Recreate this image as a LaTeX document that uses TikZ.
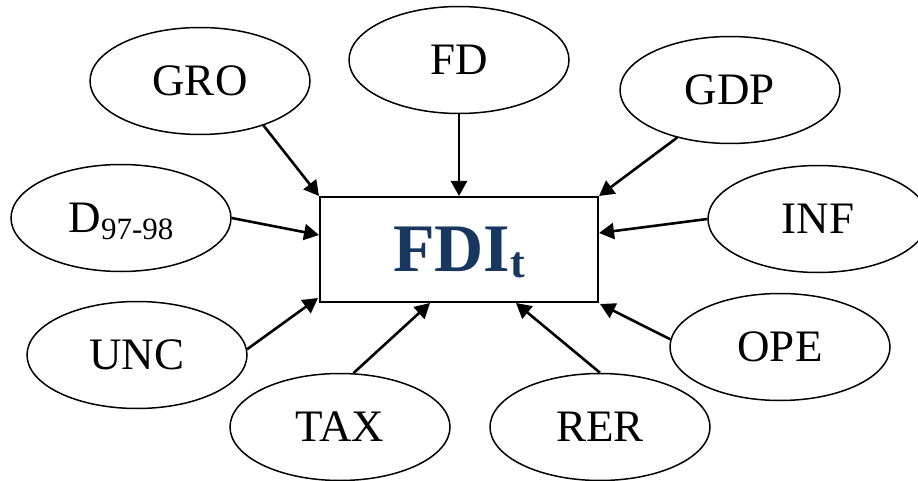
\documentclass[tikz,border=0pt]{standalone}
\usepackage{fontspec}
\setmainfont{Liberation Serif}
\usetikzlibrary{shapes.geometric,arrows.meta}
\definecolor{fdiblue}{RGB}{23,55,94}
\tikzset{
  factor/.style={ellipse, draw, line width=1.5pt, inner sep=0pt,
    minimum width=220pt, minimum height=107pt,
    font=\fontsize{45}{45}\selectfont},
  target/.style={rectangle, draw, line width=2pt, inner sep=0pt,
    minimum width=278pt, minimum height=105pt},
  link/.style={line width=2.6pt, -{Triangle[length=15pt,width=16pt]}}
}
\begin{document}
\begin{tikzpicture}[x=1pt,y=-1pt]
\useasboundingbox (0,0) rectangle (918,481);
% central variable
\node[target] (fdi) at (459,249.5)
  {\fontsize{68}{68}\selectfont\bfseries\color{fdiblue}FDI\raisebox{-6pt}[0pt][0pt]{\fontsize{44}{44}\selectfont t}};
% explanatory factors
\node[factor] (gro) at (200,81)  {GRO};
\node[factor] (fd)  at (459,60)  {FD};
\node[factor] (gdp) at (730,90)  {GDP};
\node[factor] (dum) at (121,218) {D\raisebox{-7pt}[0pt][0pt]{\fontsize{31}{31}\selectfont 97-98}};
\node[factor] (inf) at (818,219) {INF};
\node[factor] (unc) at (137,355) {UNC};
\node[factor] (tax) at (340,427) {TAX};
\node[factor] (rer) at (600,427) {RER};
\node[factor] (ope) at (780,347) {OPE};
% effects on FDI
\draw[link] (gro.-35)  -- (fdi.north west);
\draw[link] (fd.south) -- (fdi.north);
\draw[link] (gdp.-138) -- (fdi.north east);
\draw[link] (dum.east) -- ([yshift=14.5pt]fdi.west);
\draw[link] (inf.west) -- ([yshift=16.5pt]fdi.east);
\draw[link] (unc.3)    -- ([yshift=5pt,xshift=-1pt]fdi.south west);
\draw[link] (tax.76)   -- ([xshift=-29pt]fdi.south);
\draw[link] (rer.north) -- ([xshift=57pt]fdi.south);
\draw[link] (ope.176)  -- ([xshift=1pt,yshift=-1pt]fdi.south east);
\end{tikzpicture}
\end{document}
